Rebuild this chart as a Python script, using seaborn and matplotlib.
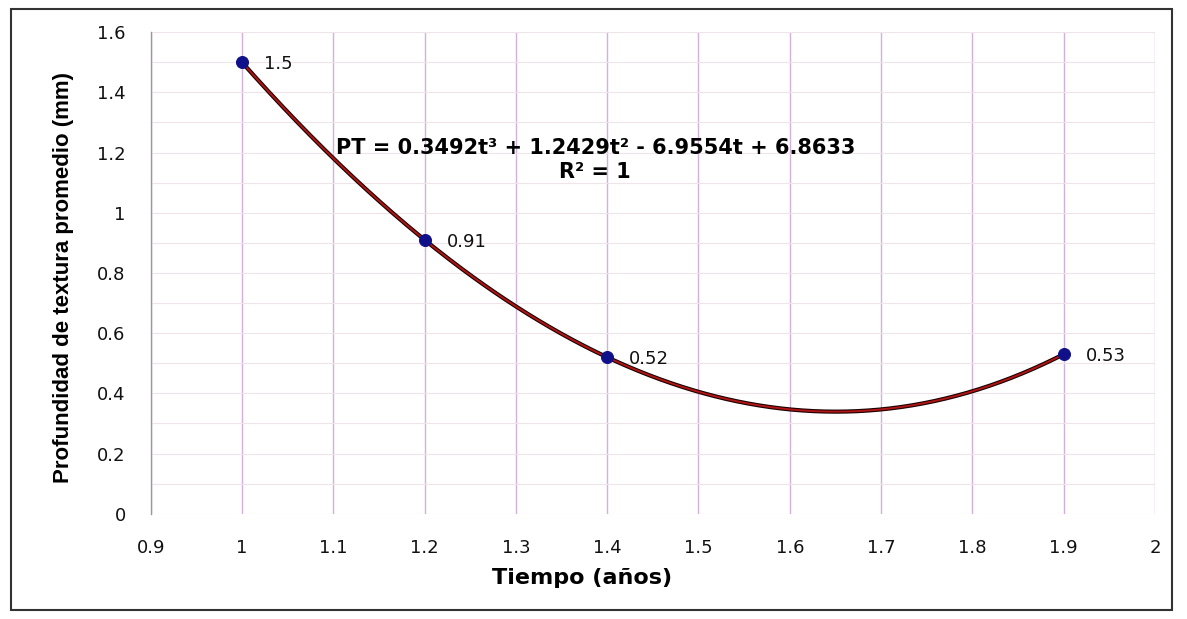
import numpy as np
import pandas as pd
import matplotlib
matplotlib.use('Agg')
import matplotlib.pyplot as plt
import seaborn as sns
from matplotlib.patches import Rectangle

# Data
tiempo = [1.0, 1.2, 1.4, 1.9]
profundidad = [1.5, 0.91, 0.52, 0.53]
etiquetas = ['1.5', '0.91', '0.52', '0.53']
ecuacion = 'PT = 0.3492t³ + 1.2429t² - 6.9554t + 6.8633'
r2_texto = 'R² = 1'

x_ticks = [0.9, 1, 1.1, 1.2, 1.3, 1.4, 1.5, 1.6, 1.7, 1.8, 1.9, 2]
x_ticklabels = ['0.9', '1', '1.1', '1.2', '1.3', '1.4', '1.5', '1.6', '1.7', '1.8', '1.9', '2']
y_ticks = [0, 0.2, 0.4, 0.6, 0.8, 1.0, 1.2, 1.4, 1.6]
y_ticklabels = ['0', '0.2', '0.4', '0.6', '0.8', '1', '1.2', '1.4', '1.6']

df = pd.DataFrame({'t': tiempo, 'pt': profundidad})

# Polynomial (order 3) trend line, as in the spreadsheet
coef = np.polyfit(df['t'], df['pt'], 3)
t_fit = np.linspace(df['t'].min(), df['t'].max(), 300)
curva = pd.DataFrame({'t': t_fit, 'pt': np.polyval(coef, t_fit)})

sns.set_style('white')
plt.rcParams['font.family'] = ['DejaVu Sans']

fig = plt.figure(figsize=(11.87, 6.19), dpi=100)
ax = fig.add_axes([0.127, 0.170, 0.846, 0.778])
ax.set_axisbelow(True)

sns.lineplot(data=curva, x='t', y='pt', ax=ax, color='#1a0000', lw=3.0, zorder=2)
sns.lineplot(data=curva, x='t', y='pt', ax=ax, color='#b01515', lw=1.4, zorder=3)
sns.scatterplot(data=df, x='t', y='pt', ax=ax, color='#10108a', s=75,
                edgecolor='#10108a', zorder=4)

for x, y, lab in zip(tiempo, profundidad, etiquetas):
    ax.annotate(lab, (x, y), xytext=(22, -2), textcoords='offset pixels',
                ha='left', va='center', fontsize=13, color='#111111')

ax.text(1.387, 1.215, ecuacion, ha='center', va='center', fontsize=15,
        fontweight='bold', color='#000000')
ax.text(1.387, 1.135, r2_texto, ha='center', va='center', fontsize=15,
        fontweight='bold', color='#000000')

ax.set_xlim(0.9, 2.0)
ax.set_ylim(0, 1.6)
ax.set_xticks(x_ticks)
ax.set_xticklabels(x_ticklabels, fontsize=13, color='#111111')
ax.set_yticks(y_ticks)
ax.set_yticks(np.arange(0.1, 1.6, 0.2), minor=True)
ax.set_yticklabels(y_ticklabels, fontsize=13, color='#111111')
ax.tick_params(which='both', length=0, pad=18)

# grid
ax.grid(axis='x', which='major', color='#d2b0dc', lw=1.0)
ax.grid(axis='y', which='both', color='#eee4ea', lw=0.8)

ax.set_xlabel('Tiempo (años)', fontsize=16, fontweight='bold', color='#000000')
ax.xaxis.set_label_coords(0.43, -0.113)
ax.set_ylabel('Profundidad de textura promedio (mm)', fontsize=16,
              fontweight='bold', family=['Liberation Sans'], color='#000000')
ax.yaxis.set_label_coords(-0.076, 0.49)

for s in ['top', 'right', 'bottom']:
    ax.spines[s].set_visible(False)
ax.spines['left'].set_color('#999999')
ax.spines['left'].set_linewidth(1.0)

# outer chart border
fig.patches.append(Rectangle((0.009, 0.015), 0.978, 0.970, transform=fig.transFigure,
                             fill=False, edgecolor='#333333', lw=1.5))

plt.savefig('out.png', dpi=100)
